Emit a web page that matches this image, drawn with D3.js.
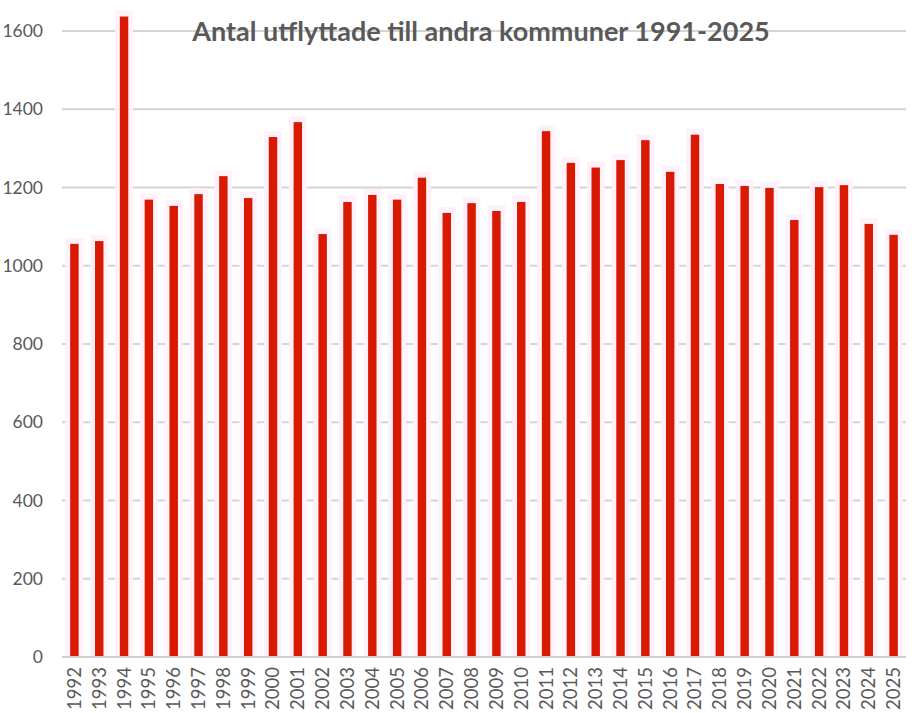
<!DOCTYPE html>
<html>
<head>
<meta charset="utf-8">
<script src="https://cdn.jsdelivr.net/npm/d3@7"></script>
<style>
  html, body { margin: 0; padding: 0; background: #ffffff; }
  svg { display: block; }
</style>
</head>
<body>
<svg id="chart" width="916" height="713"></svg>
<script>
const years = ["1992","1993","1994","1995","1996","1997","1998","1999","2000","2001","2002","2003","2004","2005","2006","2007","2008","2009","2010","2011","2012","2013","2014","2015","2016","2017","2018","2019","2020","2021","2022","2023","2024","2025"];
const values = [1056,1063,1637,1169,1153,1183,1229,1173,1329,1367,1081,1163,1181,1169,1225,1135,1160,1140,1163,1344,1263,1251,1270,1321,1240,1335,1209,1204,1199,1117,1201,1206,1107,1079];
const yTicks = [0,200,400,600,800,1000,1200,1400,1600];
const title = "Antal utflyttade till andra kommuner 1991-2025";

(function () {
const data = years.map((yr, i) => ({ year: yr, value: values[i] }));

const svg = d3.select("#chart");
const mLeft = 62, mRight = 906, mTop = 31, mBottom = 657;

const x = d3.scaleBand().domain(years).range([mLeft, mRight]).paddingInner(0.66).paddingOuter(0.33);
const y = d3.scaleLinear().domain([0, 1600]).range([mBottom, mTop]);

const font = "Lato, 'Open Sans', sans-serif";

// gridlines
svg.append("g")
  .selectAll("line")
  .data(yTicks.filter(d => d > 0))
  .join("line")
  .attr("x1", mLeft).attr("x2", mRight)
  .attr("y1", d => y(d)).attr("y2", d => y(d))
  .attr("stroke", "#d4d4d4").attr("stroke-width", 2);

// faint halos
svg.append("g")
  .selectAll("rect")
  .data(data)
  .join("rect")
  .attr("x", d => x(d.year) - x.bandwidth() * 0.55)
  .attr("width", x.bandwidth() * 2.1)
  .attr("y", d => y(d.value) - 6)
  .attr("height", d => y(0) - y(d.value) + 6)
  .attr("fill", "#fff1fc");

// bars
svg.append("g")
  .selectAll("rect")
  .data(data)
  .join("rect")
  .attr("x", d => x(d.year))
  .attr("width", x.bandwidth())
  .attr("y", d => y(d.value))
  .attr("height", d => y(0) - y(d.value))
  .attr("fill", "#d81a00");

// baseline
svg.append("line")
  .attr("x1", mLeft).attr("x2", mRight)
  .attr("y1", y(0)).attr("y2", y(0))
  .attr("stroke", "#cfcfcf").attr("stroke-width", 2);

// y axis
const yAxis = d3.axisLeft(y).tickValues(yTicks).tickSize(0).tickPadding(0).tickFormat(d3.format("d"));
const gy = svg.append("g").attr("transform", "translate(43,0)").call(yAxis);
gy.select(".domain").remove();
gy.selectAll("text")
  .attr("font-family", font).attr("font-size", 17.5).attr("fill", "#595959");

// x axis
const xAxis = d3.axisBottom(x).tickSize(0).tickPadding(0);
const gx = svg.append("g").attr("transform", `translate(0,${y(0)})`).call(xAxis);
gx.select(".domain").remove();
gx.selectAll("text")
  .attr("font-family", font).attr("font-size", 18.5).attr("fill", "#595959")
  .attr("text-anchor", "end")
  .attr("transform", "rotate(-90)")
  .attr("x", -10).attr("y", 0).attr("dy", "0.35em");

// title
svg.append("text")
  .attr("x", 481).attr("y", 41)
  .attr("text-anchor", "middle")
  .attr("font-family", font).attr("font-weight", "bold").attr("font-size", 27)
  .attr("fill", "#595959")
  .text(title);
})();
</script>
</body>
</html>
